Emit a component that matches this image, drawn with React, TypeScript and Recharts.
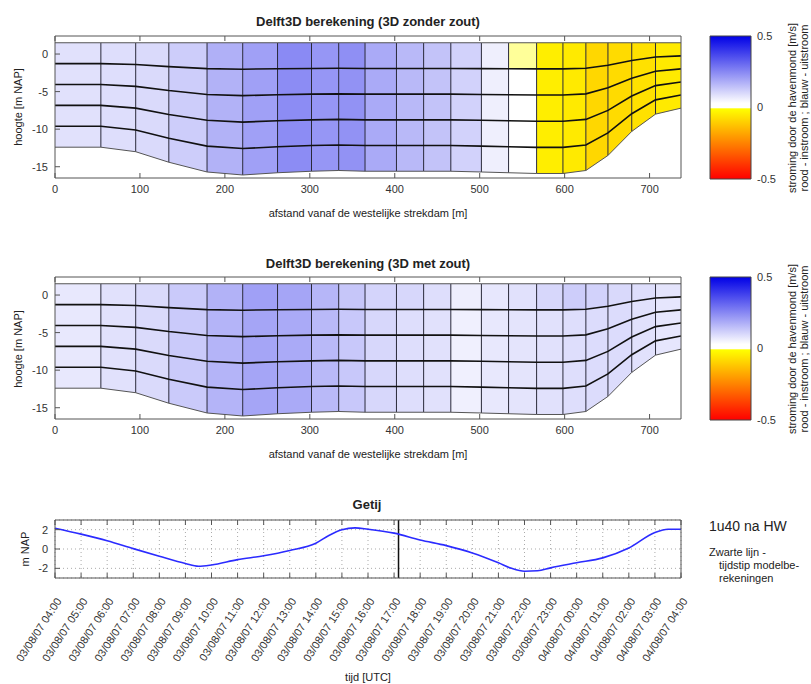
import React from "react"
import { ComposedChart, BarChart, Bar, Area, Line, XAxis, YAxis, ReferenceLine, CartesianGrid } from "recharts"

const FONT = '"Liberation Sans", Arial, Helvetica, sans-serif'

// dwarsprofiel: rekenroosterpunten [m vanaf westelijke strekdam]
const nodeX = [0, 54, 95, 134, 179, 221, 262, 302, 334, 365, 402, 434, 466, 502, 534, 567, 598, 625, 651, 679, 707, 737]
const bedLevel = [-12.4, -12.4, -13.0, -14.4, -15.7, -16.1, -15.8, -15.6, -15.5, -15.6, -15.6, -15.6, -15.6, -15.7, -15.8, -15.9, -15.9, -15.5, -13.5, -10.3, -8.0, -7.2]
const waterLevel = 1.5
const sigmaFractions = [0.2, 0.4, 0.6, 0.8]
const distTicks = [0, 100, 200, 300, 400, 500, 600, 700]
const depthTicks = [-15, -10, -5, 0]

// stroomsnelheid per kolom [m/s], bovenste laag en onderliggende lagen
const zonderTop = [0.085, 0.091, 0.098, 0.122, 0.175, 0.205, 0.245, 0.224, 0.236, 0.187, 0.159, 0.141, 0.113, 0.06, -0.004, -0.043, -0.05, -0.087, -0.08, -0.068, -0.05]
const zonderDeep = [0.085, 0.091, 0.098, 0.122, 0.172, 0.205, 0.242, 0.224, 0.23, 0.187, 0.159, 0.141, 0.113, 0.06, 0, -0.043, -0.05, -0.087, -0.08, -0.068, -0.05]
const metTop = [0.072, 0.085, 0.098, 0.128, 0.172, 0.205, 0.196, 0.165, 0.135, 0.11, 0.104, 0.09, 0.062, 0.075, 0.085, 0.104, 0.122, 0.113, 0.1, 0.09, 0.08]
const metDeep = [0.072, 0.085, 0.098, 0.128, 0.168, 0.196, 0.187, 0.159, 0.131, 0.104, 0.09, 0.085, 0.058, 0.072, 0.08, 0.085, 0.091, 0.094, 0.094, 0.085, 0.076]

// kleurenschaal
const cmapStops = [
  { v: -0.5, c: [255, 0, 0] },
  { v: -0.01, c: [255, 255, 0] },
  { v: 0, c: [255, 255, 255] },
  { v: 0.03, c: [255, 255, 255] },
  { v: 0.5, c: [0, 0, 230] },
]
const cbarTicks = [-0.5, 0, 0.5]

// getij
const tideHours = [0, 1, 2, 3, 4, 5, 5.5, 6, 7, 8, 9, 10, 10.5, 11, 11.5, 12, 13, 14, 15, 16, 17, 17.5, 18, 18.5, 19, 20, 21, 22, 23, 23.5, 24]
const tideLevel = [2.15, 1.54, 0.86, 0.04, -0.75, -1.5, -1.78, -1.65, -1.1, -0.7, -0.15, 0.6, 1.4, 1.99, 2.19, 2.05, 1.64, 0.93, 0.35, -0.41, -1.43, -2.0, -2.3, -2.25, -1.95, -1.43, -0.92, 0.1, 1.71, 2.05, 2.05]
const timeTicks = Array.from({ length: 25 }, (_, i) => i)
const timeLabels = [
  "03/08/07 04:00", "03/08/07 05:00", "03/08/07 06:00", "03/08/07 07:00", "03/08/07 08:00",
  "03/08/07 09:00", "03/08/07 10:00", "03/08/07 11:00", "03/08/07 12:00", "03/08/07 13:00",
  "03/08/07 14:00", "03/08/07 15:00", "03/08/07 16:00", "03/08/07 17:00", "03/08/07 18:00",
  "03/08/07 19:00", "03/08/07 20:00", "03/08/07 21:00", "03/08/07 22:00", "03/08/07 23:00",
  "04/08/07 00:00", "04/08/07 01:00", "04/08/07 02:00", "04/08/07 03:00", "04/08/07 04:00",
]
const modelTime = 13.17
const levelTicks = [-2, 0, 2]

const XMAX = nodeX[nodeX.length - 1]
const BOX = "#555"
const tickFont = { fill: "#333", fontSize: 11, fontFamily: FONT }

function colorOf(v: number) {
  let a = cmapStops[0], b = cmapStops[cmapStops.length - 1]
  if (v <= a.v) return `rgb(${a.c.join(",")})`
  if (v >= b.v) return `rgb(${b.c.join(",")})`
  for (let k = 0; k < cmapStops.length - 1; k++) {
    if (v >= cmapStops[k].v && v <= cmapStops[k + 1].v) { a = cmapStops[k]; b = cmapStops[k + 1]; break }
  }
  const t = b.v === a.v ? 0 : (v - a.v) / (b.v - a.v)
  const c = a.c.map((ch, j) => Math.round(ch + t * (b.c[j] - ch)))
  return `rgb(${c.join(",")})`
}

function sectionData() {
  return nodeX.map((x, i) => {
    const bed = bedLevel[i]
    const lv = sigmaFractions.map((s) => waterLevel + s * (bed - waterLevel))
    return { x, surf: waterLevel, bed, l1: lv[0], l2: lv[1], l3: lv[2], l4: lv[3], top: [lv[0], waterLevel], deep: [bed, lv[0]] }
  })
}

function CellGradient({ id, values }: { id: string; values: number[] }) {
  const stops: React.ReactNode[] = []
  values.forEach((v, i) => {
    const col = colorOf(v)
    stops.push(<stop key={i + "a"} offset={nodeX[i] / XMAX} stopColor={col} />)
    stops.push(<stop key={i + "b"} offset={nodeX[i + 1] / XMAX} stopColor={col} />)
  })
  return <linearGradient id={id} x1="0" y1="0" x2="1" y2="0">{stops}</linearGradient>
}

function CrossSection({ id, top, deep }: { id: string; top: number[]; deep: number[] }) {
  const data = sectionData()
  const yDomain = [-16.5, 2.4]
  return (
    <ComposedChart width={700} height={230} data={data} margin={{ top: 35, right: 18, bottom: 22, left: 15 }}>
      <defs>
        <CellGradient id={id + "top"} values={top} />
        <CellGradient id={id + "deep"} values={deep} />
      </defs>
      <XAxis dataKey="x" type="number" domain={[0, XMAX]} ticks={distTicks} interval={0} allowDataOverflow
        height={30} tickSize={-5} tickMargin={12} tick={tickFont} axisLine={{ stroke: BOX }} tickLine={{ stroke: BOX }} />
      <XAxis xAxisId="t" orientation="top" dataKey="x" type="number" domain={[0, XMAX]} ticks={distTicks} interval={0}
        height={1} tickSize={-5} tickFormatter={() => ""} axisLine={{ stroke: BOX }} tickLine={{ stroke: BOX }} />
      <YAxis type="number" domain={yDomain} ticks={depthTicks} interval={0} allowDataOverflow
        width={40} tickSize={-5} tickMargin={12} tick={tickFont} axisLine={{ stroke: BOX }} tickLine={{ stroke: BOX }} />
      <YAxis yAxisId="r" orientation="right" type="number" domain={yDomain} ticks={depthTicks} interval={0}
        width={1} tickSize={-5} tickFormatter={() => ""} axisLine={{ stroke: BOX }} tickLine={{ stroke: BOX }} />
      <Area type="linear" dataKey="deep" fill={`url(#${id}deep)`} fillOpacity={1} stroke="none" isAnimationActive={false} />
      <Area type="linear" dataKey="top" fill={`url(#${id}top)`} fillOpacity={1} stroke="none" isAnimationActive={false} />
      {nodeX.slice(1, -1).map((x, i) => (
        <ReferenceLine key={x} segment={[{ x, y: bedLevel[i + 1] }, { x, y: waterLevel }]} stroke="#2a2a3a" strokeWidth={1} />
      ))}
      <Line type="linear" dataKey="surf" stroke="#555" strokeWidth={1} dot={false} isAnimationActive={false} />
      <Line type="linear" dataKey="bed" stroke="#555" strokeWidth={1} dot={false} isAnimationActive={false} />
      {["l1", "l2", "l3", "l4"].map((k) => (
        <Line key={k} type="linear" dataKey={k} stroke="#111" strokeWidth={1.6} dot={false} isAnimationActive={false} />
      ))}
    </ComposedChart>
  )
}

function ColorBar({ id }: { id: string }) {
  const stops = [...cmapStops].reverse()
  return (
    <BarChart width={111} height={230} data={[{ name: "cb", v: [-0.5, 0.5] }]} barCategoryGap={0}
      margin={{ top: 36, right: 20, bottom: 51, left: 10 }}>
      <defs>
        <linearGradient id={id} x1="0" y1="0" x2="0" y2="1">
          {stops.map((s, i) => <stop key={i} offset={0.5 - s.v} stopColor={colorOf(s.v)} />)}
        </linearGradient>
      </defs>
      <XAxis dataKey="name" hide />
      <YAxis orientation="right" type="number" domain={[-0.5, 0.5]} ticks={cbarTicks} interval={0} width={40}
        axisLine={false} tickLine={false} tickSize={0} tickMargin={6} tick={tickFont} />
      <Bar dataKey="v" fill={`url(#${id})`} stroke="#444" strokeWidth={1} isAnimationActive={false} />
    </BarChart>
  )
}

function TimeTick(props: any) {
  const { x, y, payload } = props
  const ax = x + 7
  const ay = y + 10
  return (
    <text x={ax} y={ay} textAnchor="end" transform={`rotate(-57, ${ax}, ${ay})`} fontSize={11} fill="#333" fontFamily={FONT}>
      {timeLabels[Math.round(payload.value)]}
    </text>
  )
}

function TideChart() {
  const data = tideHours.map((h, i) => ({ h, level: tideLevel[i] }))
  return (
    <ComposedChart width={700} height={204} data={data} margin={{ top: 38, right: 18, bottom: 17, left: 15 }}>
      <CartesianGrid stroke="#aaa" strokeDasharray="1 3" />
      <XAxis dataKey="h" type="number" domain={[0, 24]} ticks={timeTicks} interval={0} height={90}
        tickSize={-5} tickMargin={18} tick={<TimeTick />} axisLine={{ stroke: BOX }} tickLine={{ stroke: BOX }} />
      <XAxis xAxisId="t" orientation="top" dataKey="h" type="number" domain={[0, 24]} ticks={timeTicks} interval={0}
        height={1} tickSize={-5} tickFormatter={() => ""} axisLine={{ stroke: BOX }} tickLine={{ stroke: BOX }} />
      <YAxis type="number" domain={[-3, 3]} ticks={levelTicks} interval={0} width={40}
        tickSize={-5} tickMargin={12} tick={tickFont} axisLine={{ stroke: BOX }} tickLine={{ stroke: BOX }} />
      <YAxis yAxisId="r" orientation="right" type="number" domain={[-3, 3]} ticks={levelTicks} interval={0}
        width={1} tickSize={-5} tickFormatter={() => ""} axisLine={{ stroke: BOX }} tickLine={{ stroke: BOX }} />
      <ReferenceLine x={modelTime} stroke="#111" strokeWidth={1.5} />
      <Line type="monotone" dataKey="level" stroke="#2b2bff" strokeWidth={1.6} dot={false} isAnimationActive={false} />
    </ComposedChart>
  )
}

function Label({ x, y, text, size = 11, bold = false, rotate = 0, align = "center" }: any) {
  const shift = align === "left" ? "translate(0,-50%)" : "translate(-50%,-50%)"
  return (
    <div style={{
      position: "absolute", left: x, top: y, transform: `${shift} rotate(${rotate}deg)`, whiteSpace: "nowrap",
      fontSize: size, fontWeight: bold ? 700 : 400, fontFamily: FONT, color: "#222", lineHeight: 1,
    }}>{text}</div>
  )
}

const at = (left: number, top: number): React.CSSProperties => ({ position: "absolute", left, top })

export default function App() {
  return (
    <div style={{ position: "absolute", left: 0, top: 0, width: 811, height: 684, background: "#fff", overflow: "hidden" }}>
      <div style={at(0, 0)}><CrossSection id="zonder" top={zonderTop} deep={zonderDeep} /></div>
      <div style={at(700, 0)}><ColorBar id="cb1" /></div>
      <div style={at(0, 241)}><CrossSection id="met" top={metTop} deep={metDeep} /></div>
      <div style={at(700, 241)}><ColorBar id="cb2" /></div>
      <div style={at(0, 481)}><TideChart /></div>

      <Label x={368} y={21} text="Delft3D berekening (3D zonder zout)" size={13} bold />
      <Label x={368} y={213} text="afstand vanaf de westelijke strekdam [m]" />
      <Label x={18} y={107} text="hoogte [m NAP]" rotate={-90} />
      <Label x={792} y={108} text="stroming door de havenmond [m/s]" rotate={-90} />
      <Label x={804} y={108} text="rood - instroom ; blauw - uitstroom" rotate={-90} />

      <Label x={368} y={263} text="Delft3D berekening (3D met zout)" size={13} bold />
      <Label x={368} y={454} text="afstand vanaf de westelijke strekdam [m]" />
      <Label x={18} y={349} text="hoogte [m NAP]" rotate={-90} />
      <Label x={792} y={349} text="stroming door de havenmond [m/s]" rotate={-90} />
      <Label x={804} y={349} text="rood - instroom ; blauw - uitstroom" rotate={-90} />

      <Label x={367} y={504} text="Getij" size={13} bold />
      <Label x={25} y={549} text="m NAP" rotate={-90} />
      <Label x={368} y={677} text="tijd [UTC]" />
      <Label x={709} y={526} text="1u40 na HW" size={14} align="left" />
      <Label x={709} y={552} text="Zwarte lijn -" align="left" />
      <Label x={719} y={565} text="tijdstip modelbe-" align="left" />
      <Label x={719} y={578} text="rekeningen" align="left" />
    </div>
  )
}
